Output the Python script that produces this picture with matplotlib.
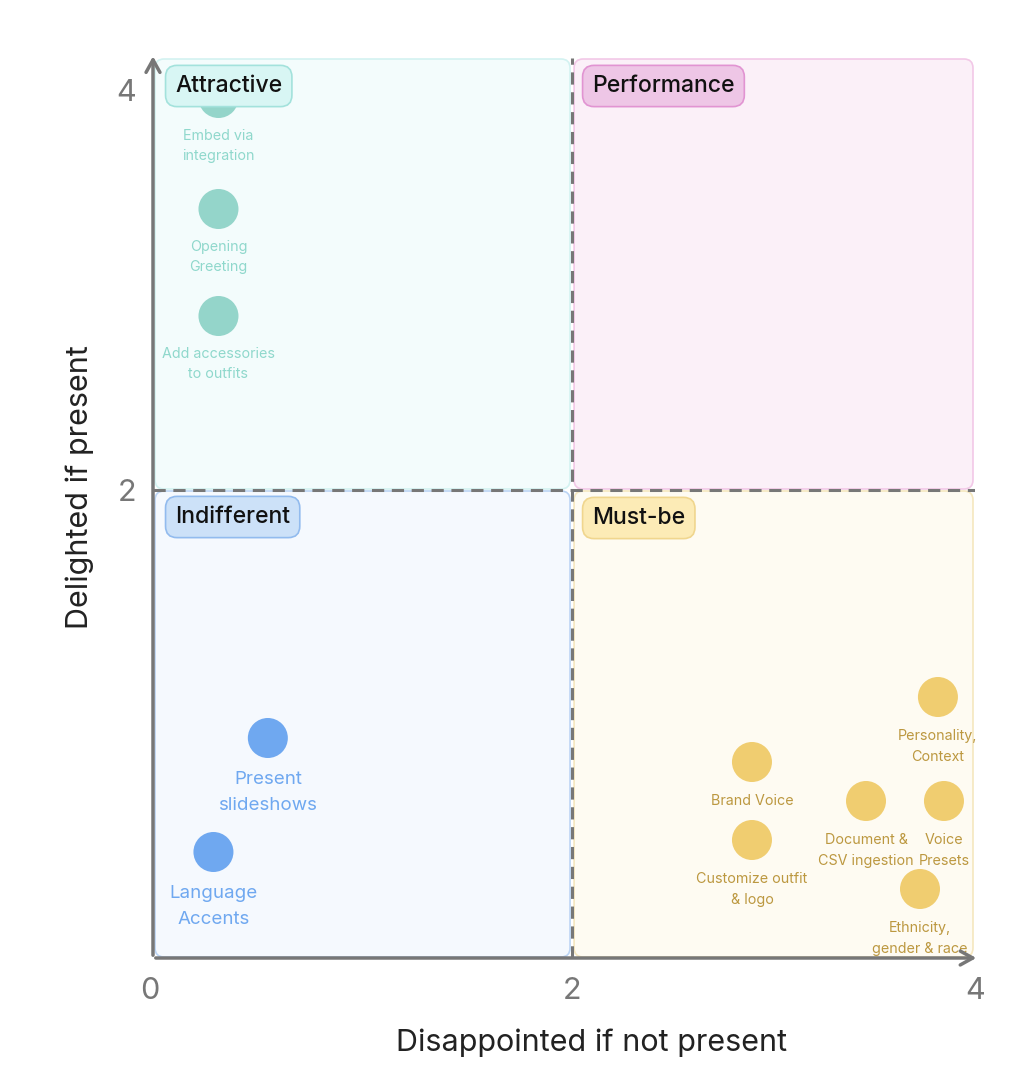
import matplotlib
matplotlib.use("Agg")
import matplotlib.pyplot as plt
from matplotlib.patches import FancyBboxPatch
from matplotlib.transforms import ScaledTranslation

plt.rcParams['font.family'] = ['Inter', 'DejaVu Sans']

# ---- data ----
attractive_names = ["Embed via\nintegration", "Opening\nGreeting", "Add accessories\nto outfits"]
attractive_x = [0.245, 0.245, 0.245]
attractive_y = [3.96, 3.405, 2.87]

indifferent_names = ["Present\nslideshows", "Language\nAccents"]
indifferent_x = [0.49, 0.22]
indifferent_y = [0.76, 0.19]

mustbe_names = ["Personality,\nContext", "Brand Voice", "Document &\nCSV ingestion",
                "Voice\nPresets", "Customize outfit\n& logo", "Ethnicity,\ngender & race"]
mustbe_x = [3.816, 2.893, 3.459, 3.846, 2.893, 3.727]
mustbe_y = [0.965, 0.64, 0.445, 0.445, 0.25, 0.005]

quadrant_names = ["Attractive", "Performance", "Indifferent", "Must-be"]
x_ticks = [0, 2, 4]
y_ticks = [2, 4]
x_label = "Disappointed if not present"
y_label = "Delighted if present"

# ---- figure ----
fig = plt.figure(figsize=(10.18, 10.68), dpi=100)
ax = fig.add_axes([153/1018, 110/1068, 822/1018, 900/1068])
XMIN, XMAX, YMIN, YMAX = -0.08, 4, -0.34, 4.16
ax.set_xlim(XMIN, XMAX)
ax.set_ylim(YMIN, YMAX)
for s in ax.spines.values():
    s.set_visible(False)

# quadrant backgrounds
quads = [
    (XMIN, 2.0, 2.0 - XMIN, YMAX - 2.0, '#F3FCFC', '#D3F2F1'),
    (2.0, 2.0, XMAX - 2.0, YMAX - 2.0, '#FBF0F8', '#F2C8E7'),
    (XMIN, YMIN, 2.0 - XMIN, 2.0 - YMIN, '#F5F9FE', '#BBD4F4'),
    (2.0, YMIN, XMAX - 2.0, 2.0 - YMIN, '#FEFBF2', '#F5E7BF'),
]
for (x0, y0, w, h, fc, ec) in quads:
    p = FancyBboxPatch((x0 + 0.01, y0 + 0.005), w - 0.02, h - 0.01,
                       boxstyle="round,pad=0,rounding_size=0.045",
                       fc=fc, ec=ec, lw=1.2, zorder=0)
    ax.add_patch(p)

# dashed dividers
ax.plot([2, 2], [YMIN, YMAX], color='#777777', lw=2.2, ls=(0, (4, 2.5)), zorder=1)
ax.plot([XMIN, XMAX], [2, 2], color='#777777', lw=2.2, ls=(0, (4, 2.5)), zorder=1)

# axis arrows
ax.annotate('', xy=(0, 1.005), xytext=(0, 0), xycoords='axes fraction',
            arrowprops=dict(arrowstyle='->,head_length=0.9,head_width=0.5',
                            color='#777777', lw=2.5), zorder=5)
ax.annotate('', xy=(1.005, 0), xytext=(0, 0), xycoords='axes fraction',
            arrowprops=dict(arrowstyle='->,head_length=0.9,head_width=0.5',
                            color='#777777', lw=2.5), zorder=5)

# ticks
ax.set_xticks(x_ticks)
ax.set_xticklabels([str(t) for t in x_ticks])
ax.set_yticks(y_ticks)
ax.set_yticklabels([str(t) for t in y_ticks])
ax.tick_params(axis='both', length=0, labelsize=22, colors='#777777')
ax.tick_params(axis='x', pad=14)
ax.tick_params(axis='y', pad=12)
# the "0" label sits at the axes corner
lbl0 = ax.get_xticklabels()[0]
lbl0.set_transform(lbl0.get_transform() + ScaledTranslation(-0.19, 0, fig.dpi_scale_trans))

ax.set_xlabel(x_label, fontsize=22, color='#222222')
ax.set_ylabel(y_label, fontsize=22, color='#222222')
ax.xaxis.set_label_coords(0.534, -0.094)
ax.yaxis.set_label_coords(-0.089, 0.523)
ax.xaxis.label.set_va('center')
ax.yaxis.label.set_va('center')

# points
def draw(xs, ys, names, color, tcolor, fs, off, ls):
    ax.scatter(xs, ys, s=830, color=color, edgecolors='none', zorder=3)
    for x, y, n in zip(xs, ys, names):
        ax.annotate(n, (x, y), xytext=(0, off), textcoords='offset points',
                    ha='center', va='top', fontsize=fs, color=tcolor,
                    linespacing=ls, zorder=4)

draw(attractive_x, attractive_y, attractive_names, '#94D5CA', '#8FD8CC', 10.3, -22, 1.62)
draw(indifferent_x, indifferent_y, indifferent_names, '#6FA8F0', '#6FA8F0', 13.5, -23.5, 1.75)
draw(mustbe_x, mustbe_y, mustbe_names, '#F0CD70', '#BC9840', 10.3, -23, 1.6)

# quadrant tags
tags = [
    (0.03, 4.02, '#D8F6F4', '#A3E2DC'),
    (2.1, 4.02, '#EEC6E6', '#E194D2'),
    (0.03, 1.865, '#CCE1F8', '#92BBEE'),
    (2.1, 1.86, '#FCEBB6', '#F0D68E'),
]
for name, (tx, ty, fc, ec) in zip(quadrant_names, tags):
    ax.text(tx, ty, name, ha='left', va='center', fontsize=16.5, color='#111111',
            fontweight='medium', zorder=6,
            bbox=dict(boxstyle='round,pad=0.42,rounding_size=0.5', fc=fc, ec=ec, lw=1.2))

fig.savefig('out.png', dpi=100)
